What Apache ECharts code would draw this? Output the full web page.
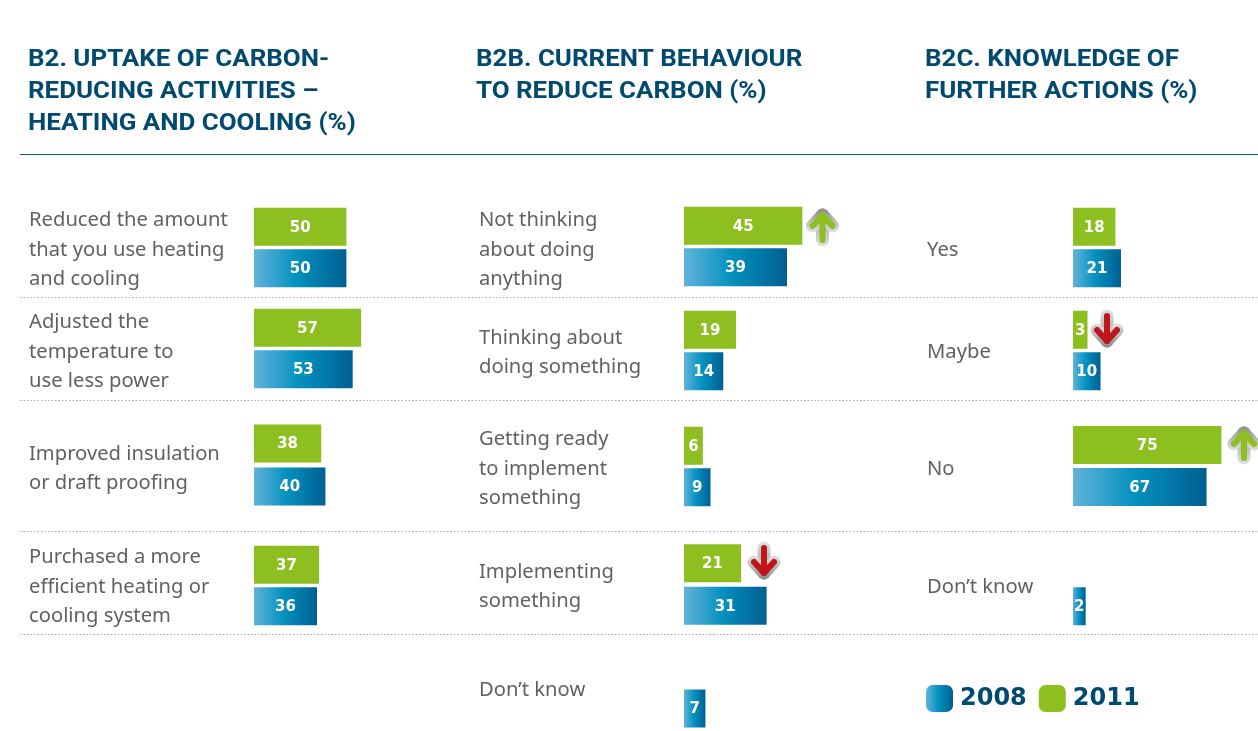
<!DOCTYPE html>
<html><head><meta charset="utf-8">
<style>html,body{margin:0;padding:0;background:#fff}#c{width:1258px;height:731px}</style>
<script src="https://cdn.jsdelivr.net/npm/echarts@6/dist/echarts.min.js"></script>
</head><body><div id="c"></div>
<script>
// ---- data ----
const titles = [
  "B2. UPTAKE OF CARBON-\nREDUCING ACTIVITIES –\nHEATING AND COOLING (%)",
  "B2B. CURRENT BEHAVIOUR\nTO REDUCE CARBON (%)",
  "B2C. KNOWLEDGE OF\nFURTHER ACTIONS (%)"
];
const labelsB2 = ["Reduced the amount\nthat you use heating\nand cooling","Adjusted the\ntemperature to\nuse less power","Improved insulation\nor draft proofing","Purchased a more\nefficient heating or\ncooling system"];
const values2011B2 = [50,57,38,37];
const values2008B2 = [50,53,40,36];
const labelsB2B = ["Not thinking\nabout doing\nanything","Thinking about\ndoing something","Getting ready\nto implement\nsomething","Implementing\nsomething","Don’t know"];
const values2011B2B = [45,19,6,21,null];
const values2008B2B = [39,14,9,31,7];
const labelsB2C = ["Yes","Maybe","No","Don’t know"];
const values2011B2C = [18,3,75,null];
const values2008B2C = [21,10,67,2];
const years = ["2011","2008"];

// ---- layout ----
const panels = [
  {labels:labelsB2,  a:values2011B2,  b:values2008B2,  textX:29,  barX:254,  min:6,    scale:2.1,  titleX:28,
   rowTop:[206,307,422,544], rowH:[83,83,86,83], textY:[250,352,469,587]},
  {labels:labelsB2B, a:values2011B2B, b:values2008B2B, textX:479, barX:684,  min:-1.4, scale:2.55, titleX:476,
   rowTop:[205,309,425,542,647], rowH:[83,83,83,85,82], textY:[250,352.5,469,586.5,690]},
  {labels:labelsB2C, a:values2011B2C, b:values2008B2C, textX:927, barX:1073, min:-4.8, scale:1.86, titleX:925,
   rowTop:[206,309,424,544], rowH:[83,83,84,83], textY:[250,352,469,587]}
];
const separators = [297,400,531,634];
const arrows = [
  {x:822.5,y:227,dir:'up',color:'#8cbf1f'},
  {x:764,y:561,dir:'down',color:'#c0161b'},
  {x:1107,y:329,dir:'down',color:'#c0161b'},
  {x:1244,y:445,dir:'up',color:'#8cbf1f'}
];
const GREEN = '#8cbf1f';
const BLUE = {type:'linear',x:0,y:0,x2:1,y2:0,colorStops:[{offset:0,color:'#62b3da'},{offset:0.45,color:'#0592c0'},{offset:1,color:'#005f92'}]};
const NAVY = '#004a70';
const TEXT = '#5f6163';
const GRID_W = 170;
const labelFont = {show:true,position:'inside',offset:[0,1],color:'#fff',fontFamily:'DejaVu Sans',fontWeight:'bold',fontSize:15};

const grids=[],xAxes=[],yAxes=[],series=[],graphics=[];
panels.forEach(p=>{
  p.labels.forEach((t,i)=>{
    const k=grids.length;
    grids.push({left:p.barX,top:p.rowTop[i],width:GRID_W,height:p.rowH[i],containLabel:false});
    xAxes.push({gridIndex:k,type:'value',show:false,min:p.min,startValue:p.min,max:p.min+GRID_W/p.scale});
    yAxes.push({gridIndex:k,type:'category',show:false,inverse:true,data:years});
    series.push({name:'2011',type:'bar',xAxisIndex:k,yAxisIndex:k,barWidth:38,barGap:'-100%',silent:true,
      itemStyle:{color:GREEN},label:labelFont,data:[p.a[i],null]});
    series.push({name:'2008',type:'bar',xAxisIndex:k,yAxisIndex:k,barWidth:38,barGap:'-100%',silent:true,
      itemStyle:{color:BLUE},label:labelFont,data:[null,p.b[i]]});
    graphics.push({type:'text',x:p.textX,y:p.textY[i]-(t.split('\n').length*29.3)/2,scaleX:1.01,
      style:{text:t,fill:TEXT,font:'20px "Noto Sans"',lineHeight:29.3}});
  });
});
titles.forEach((t,i)=>graphics.push({type:'text',x:panels[i].titleX,y:44,scaleX:1.08,
  style:{text:t,fill:NAVY,font:'bold 24px Roboto',lineHeight:32}}));
graphics.push({type:'line',shape:{x1:20,y1:154.5,x2:1258,y2:154.5},style:{stroke:'#0b5a80',lineWidth:1.2}});
separators.forEach(y=>graphics.push({type:'line',shape:{x1:20,y1:y+.5,x2:1258,y2:y+.5},style:{stroke:'#aaaaaa',lineWidth:1,lineDash:[1.5,2]}}));
arrows.forEach(a=>{
  const s=a.dir==='up'?1:-1;
  const pts=[[0,-12*s],[0,13*s]];
  const head=[[-10,-1*s],[0,-12*s],[10,-1*s]];
  const halo={type:'linear',x:0,y:0,x2:0,y2:1,colorStops:s>0?[{offset:0,color:'#8a8a8a'},{offset:1,color:'#e2e2e2'}]:[{offset:0,color:'#e2e2e2'},{offset:1,color:'#8a8a8a'}]};
  [[halo,13],[a.color,6]].forEach(([c,w])=>{
    graphics.push({type:'polyline',x:a.x,y:a.y,shape:{points:pts},style:{stroke:c,lineWidth:w,lineCap:'round',lineJoin:'round',fill:null}});
    graphics.push({type:'polyline',x:a.x,y:a.y,shape:{points:head},style:{stroke:c,lineWidth:w,lineCap:'round',lineJoin:'round',fill:null}});
  });
});

const chart=echarts.init(document.getElementById('c'),null,{renderer:'canvas'});
chart.setOption({
  animation:false,backgroundColor:'#fff',
  legend:{left:926,top:685,padding:0,orient:'horizontal',itemWidth:27,itemHeight:27,itemGap:12,selectedMode:false,
    data:[{name:'2008',icon:'roundRect'},{name:'2011',icon:'roundRect'}],
    textStyle:{color:NAVY,fontFamily:'DejaVu Sans',fontWeight:'bold',fontSize:24,padding:[0,0,0,2]}},
  grid:grids,xAxis:xAxes,yAxis:yAxes,series:series,graphic:{elements:graphics}
});
</script></body></html>
